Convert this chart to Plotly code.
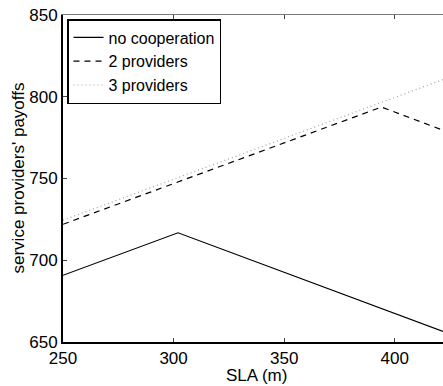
import plotly.graph_objects as go

sla_nc = [250, 302, 421.8]
pay_nc = [690.8, 716.8, 656.5]
sla_2 = [250, 394, 421.8]
pay_2 = [722, 793.7, 779.5]
sla_3 = [250, 421.8]
pay_3 = [724.5, 810.5]

x_ticks = [250, 300, 350, 400]
y_ticks = [650, 700, 750, 800, 850]

FONT = "Liberation Sans, Arial, sans-serif"
W, H = 443, 386
ML, MR, MT, MB = 63, 0, 15, 44
PW, PH = W - ML - MR, H - MT - MB

fig = go.Figure()
fig.add_trace(go.Scatter(x=sla_nc, y=pay_nc, mode="lines", name="no cooperation",
                         line=dict(color="black", width=1.2, dash="solid")))
fig.add_trace(go.Scatter(x=sla_2, y=pay_2, mode="lines", name="2 providers",
                         line=dict(color="black", width=1.2, dash="6px,5px")))
fig.add_trace(go.Scatter(x=sla_3, y=pay_3, mode="lines", name="3 providers",
                         line=dict(color="#a0a0a0", width=1.2, dash="1px,3px")))
fig.add_trace(go.Scatter(x=[], y=[], xaxis="x2", showlegend=False, hoverinfo="skip"))

fig.update_layout(
    width=W, height=H,
    margin=dict(l=ML, r=MR, t=MT, b=MB, autoexpand=False),
    paper_bgcolor="white", plot_bgcolor="white",
    font=dict(family=FONT, size=17, color="black"),
    showlegend=True,
    legend=dict(x=4 / PW, y=1 - 4 / PH, xanchor="left", yanchor="top",
                bordercolor="black", borderwidth=1.5, bgcolor="white",
                font=dict(family=FONT, size=16), tracegroupgap=0,
                itemwidth=30),
    xaxis=dict(range=[250, 421.8], tickvals=x_ticks, ticks="inside", ticklen=4,
               showline=True, linecolor="black", linewidth=2, showgrid=False,
               zeroline=False, mirror=False, automargin=False),
    xaxis2=dict(range=[250, 421.8], overlaying="x", side="top", anchor="y",
                tickvals=x_ticks, ticks="inside", ticklen=4, showticklabels=False,
                showline=True, linecolor="#777777", linewidth=1, showgrid=False,
                zeroline=False, matches="x", automargin=False),
    yaxis=dict(range=[650, 850], tickvals=y_ticks, ticks="inside", ticklen=4,
               showline=True, linecolor="black", linewidth=2, showgrid=False,
               zeroline=False, automargin=False),
    annotations=[
        dict(text="SLA (m)", xref="paper", yref="paper",
             x=(256 - ML) / PW, y=-(375 - (H - MB)) / PH,
             xanchor="center", yanchor="middle", showarrow=False,
             font=dict(family=FONT, size=17)),
        dict(text="service providers' payoffs", xref="paper", yref="paper",
             x=-(ML - 18) / PW, y=0.5, textangle=-90,
             xanchor="center", yanchor="middle", showarrow=False,
             font=dict(family=FONT, size=17)),
    ],
)

fig.write_html("out.html", config={"responsive": False, "displayModeBar": False},
               post_script="document.body.style.margin='0';document.body.style.padding='0';document.body.style.overflow='hidden';")
